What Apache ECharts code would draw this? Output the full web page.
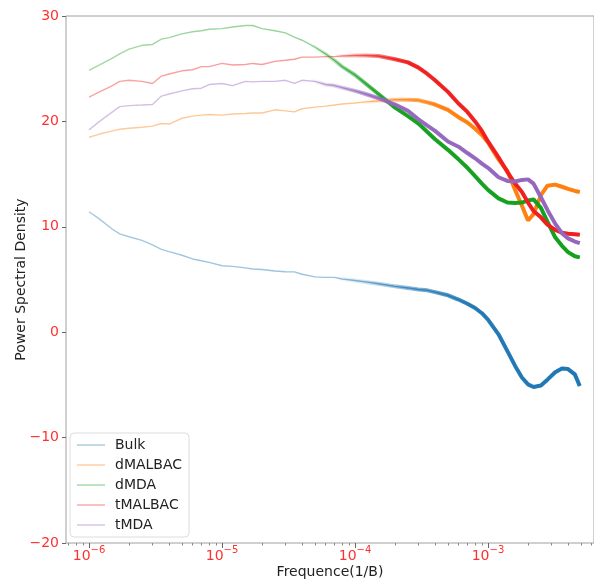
<!DOCTYPE html>
<html>
<head>
<meta charset="utf-8">
<script src="https://cdn.jsdelivr.net/npm/echarts@6/dist/echarts.min.js"></script>
<style>html,body{margin:0;padding:0;background:#fff}#c{width:594px;height:580px}</style>
</head>
<body>
<div id="c"></div>
<script>
// Frequencies (1/B)
const freq = [1e-6,1.2e-6,1.5e-6,1.7e-6,2e-6,2.5e-6,3e-6,3.5e-6,4e-6,5e-6,6e-6,7e-6,8e-6,
  1e-5,1.2e-5,1.5e-5,1.7e-5,2e-5,2.5e-5,3e-5,3.5e-5,4e-5,5e-5,6e-5,7e-5,8e-5,
  1e-4,1.2e-4,1.5e-4,2e-4,2.5e-4,3e-4,3.5e-4,4e-4,5e-4,6e-4,7e-4,8e-4,9e-4,
  1e-3,1.2e-3,1.4e-3,1.6e-3,1.8e-3,2e-3,2.2e-3,2.5e-3,2.8e-3,3.2e-3,3.6e-3,4e-3,4.5e-3,4.9e-3];

const bulk = [11.43,10.73,9.77,9.33,9.06,8.71,8.28,7.86,7.65,7.3,6.95,6.78,6.63,
  6.3,6.25,6.1,6.0,5.95,5.8,5.74,5.72,5.5,5.25,5.2,5.2,5.05,
  4.9,4.77,4.6,4.35,4.2,4.05,3.97,3.8,3.5,3.1,2.7,2.3,1.8,
  1.2,-0.2,-1.8,-3.2,-4.3,-4.95,-5.2,-5.05,-4.5,-3.8,-3.45,-3.5,-4.0,-5.1];

const dMALBAC = [18.5,18.8,19.1,19.25,19.35,19.45,19.55,19.8,19.75,20.3,20.5,20.6,20.65,
  20.6,20.7,20.75,20.8,20.8,21.1,21.0,20.9,21.2,21.35,21.45,21.55,21.65,
  21.75,21.85,21.95,22.05,22.05,22.0,21.8,21.6,21.1,20.4,19.9,19.3,18.7,
  18.0,16.4,15.3,13.5,12.0,10.6,11.2,13.0,13.9,14.0,13.8,13.6,13.4,13.3];

const dMDA = [24.85,25.36,26.0,26.4,26.85,27.22,27.3,27.8,27.95,28.3,28.5,28.6,28.74,
  28.8,28.95,29.1,29.1,28.8,28.6,28.4,28.0,27.7,27.05,26.4,25.8,25.2,
  24.4,23.6,22.6,21.3,20.5,19.8,19.0,18.3,17.3,16.4,15.6,14.8,14.1,
  13.5,12.7,12.3,12.25,12.3,12.5,12.6,11.8,10.5,9.0,8.2,7.6,7.2,7.1];

const tMALBAC = [22.3,22.8,23.4,23.8,23.9,23.8,23.6,24.3,24.5,24.8,24.9,25.2,25.2,
  25.5,25.35,25.4,25.5,25.4,25.7,25.8,25.9,26.1,26.1,26.15,26.15,26.2,
  26.25,26.25,26.2,25.9,25.6,25.1,24.5,23.9,22.8,21.7,20.9,20.0,19.1,
  18.1,16.6,15.2,14.1,13.3,12.3,11.5,10.9,10.2,9.7,9.45,9.35,9.3,9.25];

const tMDA = [19.2,20.0,20.9,21.4,21.5,21.55,21.6,22.4,22.6,22.9,23.1,23.15,23.5,
  23.6,23.4,23.8,23.75,23.8,23.8,23.9,23.6,23.9,23.8,23.5,23.4,23.2,
  22.9,22.6,22.2,21.6,21.0,20.2,19.6,19.1,18.1,17.6,17.0,16.5,16.0,
  15.6,14.7,14.35,14.3,14.45,14.5,14.1,12.8,11.6,10.3,9.4,8.9,8.6,8.45];

const seriesNames = ['Bulk','dMALBAC','dMDA','tMALBAC','tMDA'];
const seriesValues = [bulk, dMALBAC, dMDA, tMALBAC, tMDA];

const xMajorTicks = [1e-6,1e-5,1e-4,1e-3];
const xMin = 6.71e-7, xMax = 6.27e-3;
const xMinorTicks = [];
for (let e = -7; e <= -3; e++) for (let m = 2; m <= 9; m++) {
  const v = m * Math.pow(10, e);
  if (v > xMin && v < xMax) xMinorTicks.push(v);
}

// styling
const rgb = ['31,119,180','255,127,14','20,160,30','240,30,30','148,103,189'];
const fade = [[0.50,0.78],[0.55,0.72],[0.45,0.62],[0.50,0.65],[0.45,0.62]];
const tickRed = '#ff3030';
const font = 'DejaVu Sans';

function grad(c, stops){
  return new echarts.graphic.LinearGradient(0,0,1,0,
    stops.map(s => ({offset:s[0], color:'rgba(' + c + ',' + s[1] + ')'})));
}

const series = [];
seriesNames.forEach((name, i) => {
  const data = freq.map((f, k) => [f, seriesValues[i][k]]);
  const [pa, pb] = fade[i];
  series.push({
    name, type:'line', data, symbol:'none', showSymbol:false, animation:false,
    lineStyle:{width:1.4, color:grad(rgb[i], [[0,0.4],[pa,0.45],[pb,1],[1,1]])}
  });
  series.push({
    name, type:'line', data, symbol:'none', showSymbol:false, animation:false,
    lineStyle:{width:4, color:grad(rgb[i], [[0,0],[pa,0],[pb,0.95],[1,1]])}
  });
});

const chart = echarts.init(document.getElementById('c'), null, {renderer:'canvas'});
chart.setOption({
  animation:false,
  textStyle:{fontFamily:font},
  grid:{left:66, right:0, top:16, bottom:37, show:true, borderColor:'#a0a0a0', borderWidth:1, outerBoundsMode:'none'},
  legend:{
    orient:'vertical', left:70, top:433,
    backgroundColor:'#fff', borderColor:'#dcdcdc', borderWidth:1, borderRadius:4,
    padding:[5,7,5,7], itemWidth:28, itemHeight:14, itemGap:6, symbolKeepAspect:true,
    textStyle:{fontSize:14, color:'#222', fontFamily:font, padding:[0,0,0,5]},
    data: seriesNames.map((n,i) => ({name:n, icon:'path://M0,0H28V1.4H0Z',
      itemStyle:{color:'rgba(' + rgb[i] + ',0.4)', borderWidth:0},
      lineStyle:{color:'rgba(' + rgb[i] + ',0.4)', width:0}}))
  },
  xAxis:[{
    type:'log', logBase:10, min:xMin, max:xMax, position:'bottom',
    axisLine:{show:false, onZero:false}, splitLine:{show:false},
    axisTick:{show:true, customValues:xMajorTicks, length:5, lineStyle:{color:'#666'}},
    axisLabel:{
      customValues:xMajorTicks, margin:2, color:tickRed,
      formatter: v => {
        const e = Math.round(Math.log10(v));
        if (Math.abs(Math.log10(v) - e) > 1e-6) return '';
        return '{b|10}{s|\u2212' + (-e) + '}';
      },
      rich:{
        b:{fontSize:14, color:tickRed, fontFamily:font, verticalAlign:'bottom'},
        s:{fontSize:10, color:tickRed, fontFamily:font, verticalAlign:'bottom', padding:[0,0,8,0]}
      }
    },
    name:'Frequence(1/B)', nameLocation:'middle', nameGap:22, nameMoveOverlap:false,
    nameTextStyle:{fontSize:14, color:'#222', fontFamily:font}
  },{
    type:'log', logBase:10, min:xMin, max:xMax, position:'bottom', offset:0,
    axisLine:{show:false, onZero:false}, splitLine:{show:false},
    axisTick:{show:true, customValues:xMinorTicks, length:2.5, lineStyle:{color:'#888'}},
    axisLabel:{show:false}
  }],
  yAxis:{
    type:'value', min:-20, max:30, interval:10,
    axisLine:{show:false}, splitLine:{show:false},
    axisTick:{show:true, length:4, lineStyle:{color:'#666'}},
    axisLabel:{color:tickRed, fontSize:14, margin:7, fontFamily:font,
      formatter: v => String(v).replace('-', '\u2212')},
    name:'Power Spectral Density', nameLocation:'middle', nameGap:38, nameMoveOverlap:false,
    nameTextStyle:{fontSize:14, color:'#222', fontFamily:font}
  },
  series
});
</script>
</body>
</html>
